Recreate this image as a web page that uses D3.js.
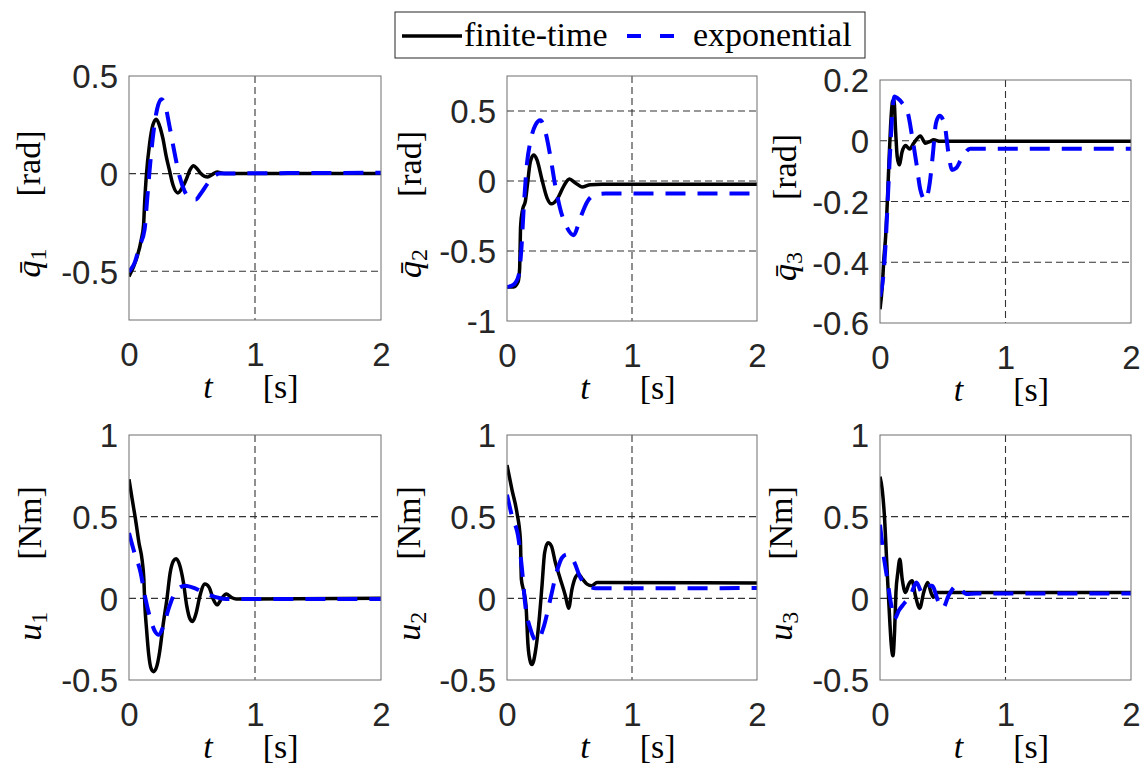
<!DOCTYPE html>
<html>
<head>
<meta charset="utf-8">
<script src="https://cdn.jsdelivr.net/npm/d3@7"></script>
<style>
  body { margin: 0; background: #fff; }
  svg { display: block; }
</style>
</head>
<body>
<svg id="fig" width="1143" height="778"></svg>
<script>
// ---- data: [t (s), value] samples of the responses ----
const timeTicks = [0, 1, 2];

const q1Finite = [[0,-0.527],[0.058,-0.439],[0.098,-0.337],[0.116,-0.26],[0.124,-0.15],[0.137,-0.014],[0.164,0.156],[0.19,0.25],[0.216,0.279],[0.24,0.25],[0.269,0.18],[0.295,0.09],[0.32,0.02],[0.35,-0.06],[0.388,-0.099],[0.42,-0.075],[0.454,-0.03],[0.485,0.02],[0.512,0.04],[0.54,0.025],[0.57,0],[0.6,-0.014],[0.625,-0.017],[0.66,-0.005],[0.70,0.008],[0.74,0.002],[0.77,0],[2,0]];
const q1Expo = [[0,-0.503],[0.045,-0.456],[0.084,-0.371],[0.124,-0.286],[0.142,-0.15],[0.164,0.02],[0.19,0.19],[0.222,0.327],[0.256,0.381],[0.282,0.361],[0.322,0.241],[0.362,0.105],[0.401,-0.014],[0.441,-0.09],[0.48,-0.124],[0.528,-0.133],[0.573,-0.099],[0.638,-0.039],[0.718,0],[2,0.004]];

const q2Finite = [[0,-0.757],[0.053,-0.757],[0.088,-0.722],[0.101,-0.627],[0.109,-0.321],[0.125,-0.203],[0.147,-0.144],[0.165,-0.014],[0.187,0.139],[0.213,0.186],[0.24,0.151],[0.28,0.009],[0.32,-0.12],[0.355,-0.163],[0.4,-0.132],[0.453,-0.038],[0.499,0.014],[0.547,-0.014],[0.6,-0.042],[0.667,-0.026],[0.76,-0.024],[2,-0.024]];
const q2Expo = [[0,-0.757],[0.053,-0.74],[0.093,-0.675],[0.115,-0.486],[0.133,-0.203],[0.16,0.127],[0.187,0.281],[0.227,0.399],[0.267,0.434],[0.307,0.351],[0.347,0.175],[0.387,-0.038],[0.427,-0.203],[0.48,-0.333],[0.533,-0.387],[0.587,-0.262],[0.64,-0.151],[0.707,-0.097],[0.787,-0.09],[2,-0.09]];

const q3Finite = [[0,-0.555],[0.018,-0.48],[0.032,-0.381],[0.045,-0.315],[0.058,-0.205],[0.071,-0.074],[0.084,0.047],[0.1,0.13],[0.111,0.135],[0.124,0.036],[0.137,-0.052],[0.153,-0.079],[0.177,-0.035],[0.203,-0.016],[0.237,-0.027],[0.269,-0.008],[0.322,0.016],[0.361,-0.008],[0.401,-0.002],[0.427,0.003],[0.48,-0.002],[2,-0.002]];
const q3Expo = [[0,-0.513],[0.026,-0.447],[0.045,-0.337],[0.063,-0.184],[0.084,-0.008],[0.1,0.102],[0.116,0.146],[0.137,0.141],[0.177,0.124],[0.222,0.091],[0.256,0.014],[0.29,-0.074],[0.322,-0.162],[0.361,-0.195],[0.396,-0.14],[0.422,-0.041],[0.446,0.058],[0.475,0.082],[0.512,0.058],[0.546,-0.041],[0.573,-0.096],[0.607,-0.09],[0.652,-0.057],[0.718,-0.026],[2,-0.026]];

const u1Finite = [[0,0.729],[0.026,0.603],[0.052,0.482],[0.079,0.34],[0.105,0.229],[0.118,0.117],[0.126,-0.045],[0.139,-0.186],[0.157,-0.348],[0.175,-0.429],[0.196,-0.449],[0.223,-0.409],[0.243,-0.328],[0.27,-0.166],[0.301,-0.004],[0.327,0.158],[0.353,0.229],[0.374,0.243],[0.4,0.209],[0.432,0.097],[0.458,-0.045],[0.484,-0.126],[0.505,-0.142],[0.531,-0.095],[0.563,0.016],[0.602,0.087],[0.636,0.067],[0.668,-0.004],[0.699,-0.04],[0.733,-0.004],[0.772,0.026],[0.812,0.006],[0.851,-0.004],[2,0]];
const u1Expo = [[0,0.40],[0.039,0.29],[0.092,0.158],[0.131,-0.004],[0.17,-0.126],[0.209,-0.206],[0.236,-0.223],[0.275,-0.166],[0.314,-0.065],[0.353,0.016],[0.393,0.061],[0.445,0.077],[0.537,0.057],[0.641,0.02],[0.772,-0.004],[2,-0.004]];

const u2Finite = [[0,0.816],[0.04,0.664],[0.08,0.522],[0.107,0.36],[0.115,0.117],[0.133,0.047],[0.152,-0.045],[0.168,-0.287],[0.187,-0.389],[0.2,-0.405],[0.227,-0.328],[0.253,-0.166],[0.28,0.077],[0.301,0.279],[0.328,0.34],[0.355,0.32],[0.387,0.219],[0.427,0.117],[0.467,0.016],[0.493,-0.061],[0.52,0.057],[0.547,0.128],[0.573,0.148],[0.605,0.117],[0.64,0.087],[0.68,0.077],[0.72,0.097],[2,0.094]];
const u2Expo = [[0,0.634],[0.04,0.502],[0.093,0.36],[0.12,0.178],[0.147,-0.045],[0.187,-0.186],[0.24,-0.263],[0.293,-0.176],[0.347,-0.004],[0.4,0.168],[0.44,0.249],[0.48,0.269],[0.533,0.229],[0.587,0.128],[0.653,0.077],[0.707,0.061],[2,0.063]];

const u3Finite = [[0,0.745],[0.018,0.664],[0.037,0.482],[0.05,0.279],[0.063,0.077],[0.077,-0.126],[0.09,-0.287],[0.103,-0.352],[0.116,-0.206],[0.127,0.036],[0.142,0.158],[0.158,0.239],[0.177,0.117],[0.203,0.036],[0.23,0.087],[0.256,0.107],[0.282,0.016],[0.317,-0.06],[0.348,0.036],[0.38,0.097],[0.406,0.036],[0.427,0.006],[0.454,0.036],[2,0.036]];
const u3Expo = [[0,0.45],[0.026,0.28],[0.058,0.117],[0.09,-0.045],[0.116,-0.126],[0.15,-0.075],[0.19,-0.034],[0.243,0.016],[0.29,0.097],[0.335,0.036],[0.375,0.077],[0.414,0.077],[0.467,-0.024],[0.501,-0.06],[0.546,0.016],[0.612,0.077],[0.69,0.026],[0.77,0.03],[2,0.03]];

// y-axis ranges and tick values
const q1Range = [-0.75, 0.5], q1Ticks = [-0.5, 0, 0.5];
const q2Range = [-1, 0.75],   q2Ticks = [-1, -0.5, 0, 0.5];
const q3Range = [-0.6, 0.2],  q3Ticks = [-0.6, -0.4, -0.2, 0, 0.2];
const uRange  = [-0.5, 1],    uTicks  = [-0.5, 0, 0.5, 1];

const legendLabels = ["finite-time", "exponential"];

// ---- layout ----
const svg = d3.select("#fig");
const serif = "'Liberation Serif', 'DejaVu Serif', serif";
const sans = "'Liberation Sans', Arial, Helvetica, sans-serif";
const colFinite = "#000000", colExpo = "#0000ff";

const panels = [
  {box:[129,381,76,320],  fin:q1Finite, exp:q1Expo, range:q1Range, ticks:q1Ticks, sym:"q", bar:true, sub:"1", unit:"[rad]", labX:40},
  {box:[507,757,76,321],  fin:q2Finite, exp:q2Expo, range:q2Range, ticks:q2Ticks, sym:"q", bar:true, sub:"2", unit:"[rad]", labX:421},
  {box:[880,1131,80,323], fin:q3Finite, exp:q3Expo, range:q3Range, ticks:q3Ticks, sym:"q", bar:true, sub:"3", unit:"[rad]", labX:796},
  {box:[129,381,435,680], fin:u1Finite, exp:u1Expo, range:uRange, ticks:uTicks, sym:"u", bar:false, sub:"1", unit:"[Nm]", labX:41},
  {box:[507,757,435,680], fin:u2Finite, exp:u2Expo, range:uRange, ticks:uTicks, sym:"u", bar:false, sub:"2", unit:"[Nm]", labX:420},
  {box:[880,1131,435,680],fin:u3Finite, exp:u3Expo, range:uRange, ticks:uTicks, sym:"u", bar:false, sub:"3", unit:"[Nm]", labX:792}
];

const fmt = v => String(v);

panels.forEach((p, i) => {
  const [x0, x1, y0, y1] = p.box;
  const x = d3.scaleLinear().domain([0, 2]).range([x0, x1]);
  const y = d3.scaleLinear().domain(p.range).range([y1, y0]);
  const g = svg.append("g");

  const clipId = "clip" + i;
  g.append("clipPath").attr("id", clipId)
    .append("rect").attr("x", x0).attr("y", y0).attr("width", x1 - x0).attr("height", y1 - y0);

  // dashed grid
  const grid = g.append("g").attr("stroke", "#333333").attr("stroke-width", 1.1)
    .attr("stroke-dasharray", "7,4").attr("fill", "none");
  timeTicks.filter(t => t > 0 && t < 2).forEach(t =>
    grid.append("line").attr("x1", x(t)).attr("x2", x(t)).attr("y1", y0).attr("y2", y1));
  p.ticks.filter(v => v > p.range[0] && v < p.range[1]).forEach(v =>
    grid.append("line").attr("x1", x0).attr("x2", x1).attr("y1", y(v)).attr("y2", y(v)));

  // axes via d3 axis generators (labels only, no domain path)
  const xAxis = g.append("g").attr("transform", `translate(0,${y1})`)
    .call(d3.axisBottom(x).tickValues(timeTicks).tickFormat(fmt).tickSize(0).tickPadding(46));
  const yAxis = g.append("g").attr("transform", `translate(${x0},0)`)
    .call(d3.axisLeft(y).tickValues(p.ticks).tickFormat(fmt).tickSize(0).tickPadding(11));
  [xAxis, yAxis].forEach(a => {
    a.select(".domain").remove();
    a.selectAll("text").attr("font-family", sans).attr("font-size", 33).attr("fill", "#262626");
  });
  xAxis.selectAll("text").attr("dy", 0);
  yAxis.selectAll("text").attr("dy", "0.36em");

  // response curves
  const line = d3.line().x(d => x(d[0])).y(d => y(d[1])).curve(d3.curveMonotoneX);
  const curves = g.append("g").attr("clip-path", `url(#${clipId})`).attr("fill", "none");
  curves.append("path").datum(p.fin).attr("d", line)
    .attr("stroke", colFinite).attr("stroke-width", 3.5).attr("stroke-linejoin", "round");
  curves.append("path").datum(p.exp).attr("d", line)
    .attr("stroke", colExpo).attr("stroke-width", 4).attr("stroke-dasharray", "20,12");

  // axes box
  g.append("rect").attr("x", x0).attr("y", y0).attr("width", x1 - x0).attr("height", y1 - y0)
    .attr("fill", "none").attr("stroke", "#6e6e6e").attr("stroke-width", 1);

  // x label: t [s]
  const xl = g.append("text").attr("x", (x0 + x1) / 2 - 4).attr("y", y1 + 78)
    .attr("text-anchor", "middle").attr("font-family", serif).attr("font-size", 34).attr("fill", "#000");
  xl.append("tspan").attr("font-style", "italic").text("t");
  xl.append("tspan").attr("dx", 50).text("[s]");

  // y label: symbol with subscript and unit, rotated
  const cy = (y0 + y1) / 2 + 6;
  const yl = g.append("text").attr("transform", `translate(${p.labX},${cy}) rotate(-90)`)
    .attr("text-anchor", "middle").attr("font-family", serif).attr("font-size", 34).attr("fill", "#000");
  yl.append("tspan").attr("font-style", "italic").text(p.bar ? p.sym + "\u0304" : p.sym);
  yl.append("tspan").attr("font-size", 24).attr("dy", 6).text(p.sub);
  yl.append("tspan").attr("dy", -6).attr("dx", 52).text(p.unit);
});

// ---- legend ----
const lg = svg.append("g");
lg.append("rect").attr("x", 395).attr("y", 12).attr("width", 470).attr("height", 46)
  .attr("fill", "#fff").attr("stroke", "#262626").attr("stroke-width", 1);
lg.append("line").attr("x1", 402).attr("x2", 462).attr("y1", 36).attr("y2", 36)
  .attr("stroke", colFinite).attr("stroke-width", 3.5);
lg.append("text").attr("x", 464).attr("y", 46).attr("font-family", serif).attr("font-size", 34)
  .text(legendLabels[0]);
lg.append("line").attr("x1", 627).attr("x2", 676).attr("y1", 36).attr("y2", 36)
  .attr("stroke", colExpo).attr("stroke-width", 4).attr("stroke-dasharray", "14,19");
lg.append("text").attr("x", 693).attr("y", 46).attr("font-family", serif).attr("font-size", 34)
  .text(legendLabels[1]);
</script>
</body>
</html>
